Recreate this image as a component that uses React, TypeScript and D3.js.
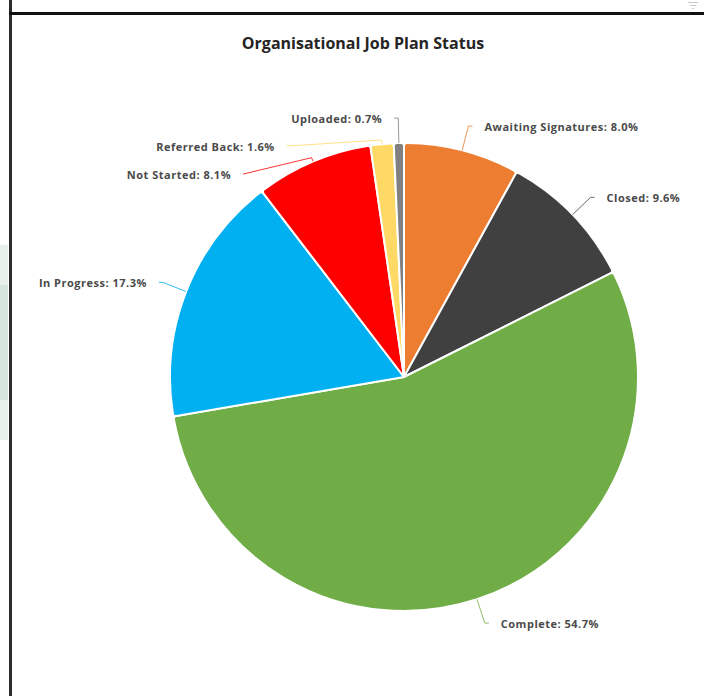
import React from "react";
import * as d3 from "d3";

const categories = ["Awaiting Signatures", "Closed", "Complete", "In Progress", "Not Started", "Referred Back", "Uploaded"];
const values = [8.0, 9.6, 54.7, 17.3, 8.1, 1.6, 0.7];
const colors = ["#ED7D31", "#404040", "#70AD47", "#00B0F0", "#FF0000", "#FFD966", "#808080"];
const title = "Organisational Job Plan Status";

const W = 704;
const H = 696;
const cx = 404;
const cy = 377;
const R = 234;
const FONT = "'Open Sans', 'DejaVu Sans', sans-serif";

export default function App() {
  const pie = d3.pie<number>().sort(null).value((d) => d)(values);
  const arc = d3.arc<d3.PieArcDatum<number>>().innerRadius(0).outerRadius(R).cornerRadius(3);

  const outer = R + 25;
  type L = { i: number; a: number; side: number; y: number };
  const labels: L[] = pie.map((p, i) => {
    const a = (p.startAngle + p.endAngle) / 2;
    return { i, a, side: a < Math.PI ? 1 : -1, y: cy - outer * Math.cos(a) };
  });
  const spacing = 28;
  [1, -1].forEach((s) => {
    const grp = labels.filter((l) => l.side === s).sort((a, b) => a.y - b.y);
    for (let k = 1; k < grp.length; k++) {
      if (grp[k].y < grp[k - 1].y + spacing) grp[k].y = grp[k - 1].y + spacing;
    }
  });

  const items = labels.map((l) => {
    const sin = Math.sin(l.a);
    const cos = Math.cos(l.a);
    const p0 = [cx + R * sin, cy - R * cos];
    let rho = Math.abs(cos) > 1e-6 ? (cy - l.y) / cos : outer;
    rho = Math.max(R + 4, Math.min(outer, rho));
    const e = [cx + rho * sin, cy - rho * cos];
    const dy = l.y - cy;
    const circ = dy * dy < outer * outer ? Math.sqrt(outer * outer - dy * dy) : 0;
    const endX = l.side > 0 ? Math.max(e[0] + 4, cx + circ) : Math.min(e[0] - 4, cx - circ);
    const textX = l.side > 0 ? endX + 12 : endX - 12;
    return { ...l, p0, e, endX, textX };
  });

  return (
    <svg width={W} height={H} style={{ position: "absolute", left: 0, top: 0, background: "#fff" }}>
      <rect x={0} y={245} width={8} height={195} fill="#e8f0eb" />
      <rect x={0} y={285} width={8} height={115} fill="#d6e6dc" />
      <g stroke="#c8c8c8" strokeWidth={1}>
        <line x1={688} x2={698} y1={2.5} y2={2.5} />
        <line x1={690} x2={696} y1={5.5} y2={5.5} />
        <line x1={692} x2={694} y1={8.5} y2={8.5} />
      </g>
      <rect x={9} y={0} width={3} height={H} fill="#2b2b2b" />
      <rect x={9} y={12} width={W - 9} height={3} fill="#111" />
      <text x={363} y={45} textAnchor="middle" dominantBaseline="middle" fontFamily={FONT} fontWeight={700} fontSize={16} fill="#252423">
        {title}
      </text>
      <g>
        {pie.map((p, i) => (
          <path key={categories[i]} d={arc(p) || ""} transform={`translate(${cx},${cy})`} fill={colors[i]} stroke="#fff" strokeWidth={2} strokeLinejoin="round" />
        ))}
      </g>
      <g>
        {items.map((it) => (
          <g key={categories[it.i]}>
            <polyline
              points={`${it.p0[0]},${it.p0[1]} ${it.e[0]},${it.e[1]} ${it.endX},${it.y}`}
              fill="none"
              stroke={colors[it.i]}
              strokeWidth={1}
              opacity={0.8}
            />
            <text
              x={it.textX}
              y={it.y}
              dy={1.5}
              textAnchor={it.side > 0 ? "start" : "end"}
              dominantBaseline="middle"
              fontFamily={FONT}
              fontWeight={700}
              fontSize={11}
              letterSpacing={0.5}
              fill="#4a4a4a"
            >
              {`${categories[it.i]}: ${values[it.i].toFixed(1)}%`}
            </text>
          </g>
        ))}
      </g>
    </svg>
  );
}
